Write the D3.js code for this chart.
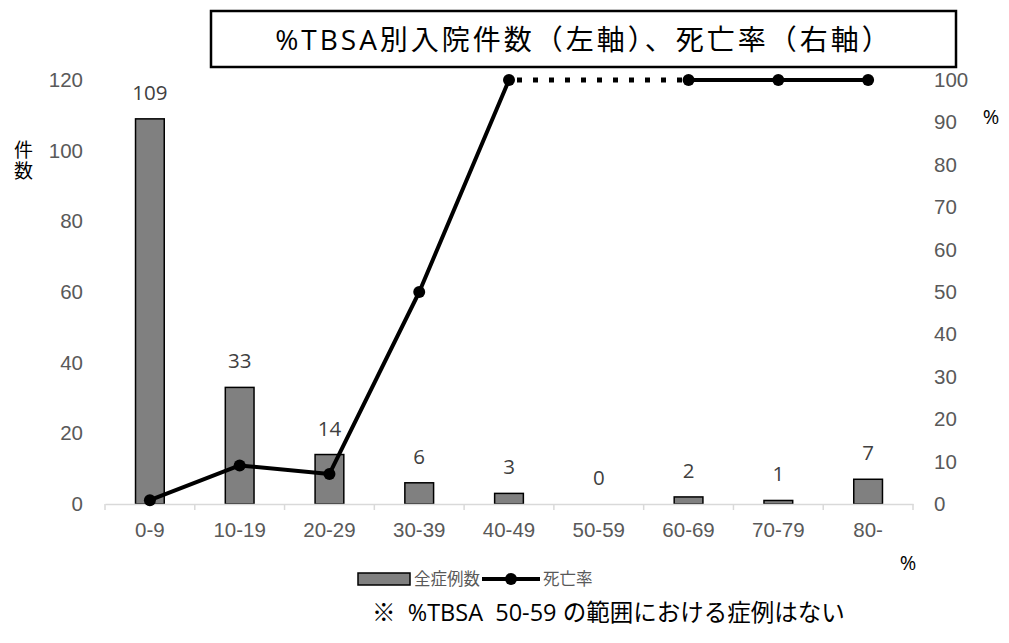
<!DOCTYPE html>
<html>
<head>
<meta charset="utf-8">
<script src="https://cdn.jsdelivr.net/npm/d3@7"></script>
<style>
  html, body { margin: 0; padding: 0; background: #fff; }
  svg { display: block; font-family: "Open Sans", "Noto Sans CJK JP", sans-serif; }
</style>
</head>
<body>
<svg id="chart" width="1009" height="643"></svg>
<script>
// %TBSA bands
const categories = ["0-9", "10-19", "20-29", "30-39", "40-49", "50-59", "60-69", "70-79", "80-"];
// admissions per band (left axis)
const counts = [109, 33, 14, 6, 3, 0, 2, 1, 7];
// mortality % per band (right axis); null = no cases in that band
const mortality = [0.9, 9.1, 7.1, 50, 100, null, 100, 100, 100];
const leftTicks = [0, 20, 40, 60, 80, 100, 120];
const rightTicks = [0, 10, 20, 30, 40, 50, 60, 70, 80, 90, 100];

const svg = d3.select("#chart");
const plot = { left: 105, right: 913, top: 80, bottom: 504 };

const x = d3.scaleBand().domain(categories).range([plot.left, plot.right]).paddingInner(0).paddingOuter(0);
const yL = d3.scaleLinear().domain([0, 120]).range([plot.bottom, plot.top]);
const yR = d3.scaleLinear().domain([0, 100]).range([plot.bottom, plot.top]);

const tickColor = "#595959";
const tickSize = 20.5;
const barWidth = x.bandwidth() * 0.32;

// title box
svg.append("rect").attr("x", 211).attr("y", 11).attr("width", 745).attr("height", 56)
  .attr("fill", "#fff").attr("stroke", "#000").attr("stroke-width", 2.5);
svg.append("text").attr("x", 584).attr("y", 50).attr("text-anchor", "middle")
  .attr("font-size", 28).attr("letter-spacing", 3).attr("fill", "#000")
  .text("%TBSA別入院件数（左軸）、死亡率（右軸）");

// bars
svg.append("g").selectAll("rect").data(categories).join("rect")
  .attr("x", (d) => x(d) + (x.bandwidth() - barWidth) / 2)
  .attr("width", barWidth)
  .attr("y", (d, i) => yL(counts[i]))
  .attr("height", (d, i) => yL(0) - yL(counts[i]))
  .attr("fill", "#808080").attr("stroke", "#000").attr("stroke-width", 1.5)
  .attr("display", (d, i) => counts[i] > 0 ? null : "none");

// bar value labels
svg.append("g").selectAll("text").data(categories).join("text")
  .attr("x", (d) => x(d) + x.bandwidth() / 2)
  .attr("y", (d, i) => yL(counts[i]) - 19)
  .attr("text-anchor", "middle").attr("font-size", tickSize).attr("fill", "#404040")
  .text((d, i) => counts[i]);

// bottom category axis
const xAxis = svg.append("g").attr("transform", `translate(0,${plot.bottom})`)
  .call(d3.axisBottom(x).tickSize(0).tickPadding(18));
xAxis.select(".domain").attr("stroke", "#d9d9d9").attr("stroke-width", 1.5);
xAxis.selectAll("text").attr("font-size", tickSize).attr("fill", tickColor);
// boundary ticks between categories
const bounds = categories.map((d) => x(d)).concat([plot.right]);
xAxis.selectAll("line.bound").data(bounds).join("line").attr("class", "bound")
  .attr("x1", (d) => d).attr("x2", (d) => d).attr("y1", 0).attr("y2", 6)
  .attr("stroke", "#d9d9d9").attr("stroke-width", 1.5);

// left axis
const left = svg.append("g").attr("transform", `translate(${plot.left},0)`)
  .call(d3.axisLeft(yL).tickValues(leftTicks).tickSize(0).tickPadding(22));
left.select(".domain").remove();
left.selectAll("text").attr("font-size", tickSize).attr("fill", tickColor);

// right axis
const right = svg.append("g").attr("transform", `translate(${plot.right},0)`)
  .call(d3.axisRight(yR).tickValues(rightTicks).tickSize(0).tickPadding(21));
right.select(".domain").remove();
right.selectAll("text").attr("font-size", tickSize).attr("fill", tickColor);

// axis titles
svg.append("text").attr("x", 22).attr("y", 140)
  .attr("writing-mode", "vertical-rl").attr("text-anchor", "start")
  .attr("font-size", 19).attr("letter-spacing", 2).attr("fill", "#000").text("件数");
svg.append("text").attr("x", 991).attr("y", 124).attr("text-anchor", "middle")
  .attr("font-size", 20).attr("fill", "#000").text("%");
svg.append("text").attr("x", 908).attr("y", 570).attr("text-anchor", "middle")
  .attr("font-size", 20).attr("fill", "#000").text("%");

// mortality line
const pts = categories.map((d, i) => ({ c: d, v: mortality[i] }));
const cx = (d) => x(d.c) + x.bandwidth() / 2;
const line = d3.line().defined((d) => d.v !== null).x(cx).y((d) => yR(d.v));
svg.append("path").datum(pts).attr("d", line)
  .attr("fill", "none").attr("stroke", "#000").attr("stroke-width", 4).attr("stroke-linejoin", "round");

// dotted bridge over the band with no cases
const gaps = [];
pts.forEach((d, i) => {
  if (d.v === null) {
    let a = i - 1, b = i + 1;
    while (a >= 0 && pts[a].v === null) a--;
    while (b < pts.length && pts[b].v === null) b++;
    if (a >= 0 && b < pts.length) gaps.push([pts[a], pts[b]]);
  }
});
svg.append("g").selectAll("path").data(gaps).join("path")
  .attr("d", (g) => d3.line().x(cx).y((d) => yR(d.v))(g))
  .attr("fill", "none").attr("stroke", "#000").attr("stroke-width", 5)
  .attr("stroke-dasharray", "5,11").attr("stroke-dashoffset", -8);

svg.append("g").selectAll("circle").data(pts.filter((d) => d.v !== null)).join("circle")
  .attr("cx", cx).attr("cy", (d) => yR(d.v)).attr("r", 6).attr("fill", "#000");

// legend
const lg = svg.append("g");
lg.append("rect").attr("x", 358).attr("y", 573).attr("width", 52).attr("height", 12)
  .attr("fill", "#808080").attr("stroke", "#000").attr("stroke-width", 1.5);
lg.append("text").attr("x", 414).attr("y", 585).attr("font-size", 16.5).attr("fill", tickColor).text("全症例数");
lg.append("line").attr("x1", 482).attr("x2", 540).attr("y1", 579).attr("y2", 579)
  .attr("stroke", "#000").attr("stroke-width", 4);
lg.append("circle").attr("cx", 511).attr("cy", 579).attr("r", 6).attr("fill", "#000");
lg.append("text").attr("x", 543).attr("y", 585).attr("font-size", 16.5).attr("fill", tickColor).text("死亡率");

// footnote
svg.append("text").attr("x", 372).attr("y", 621).attr("font-size", 23.5).attr("fill", "#000")
  .attr("xml:space", "preserve")
  .text("※  %TBSA  50-59 の範囲における症例はない");
</script>
</body>
</html>
